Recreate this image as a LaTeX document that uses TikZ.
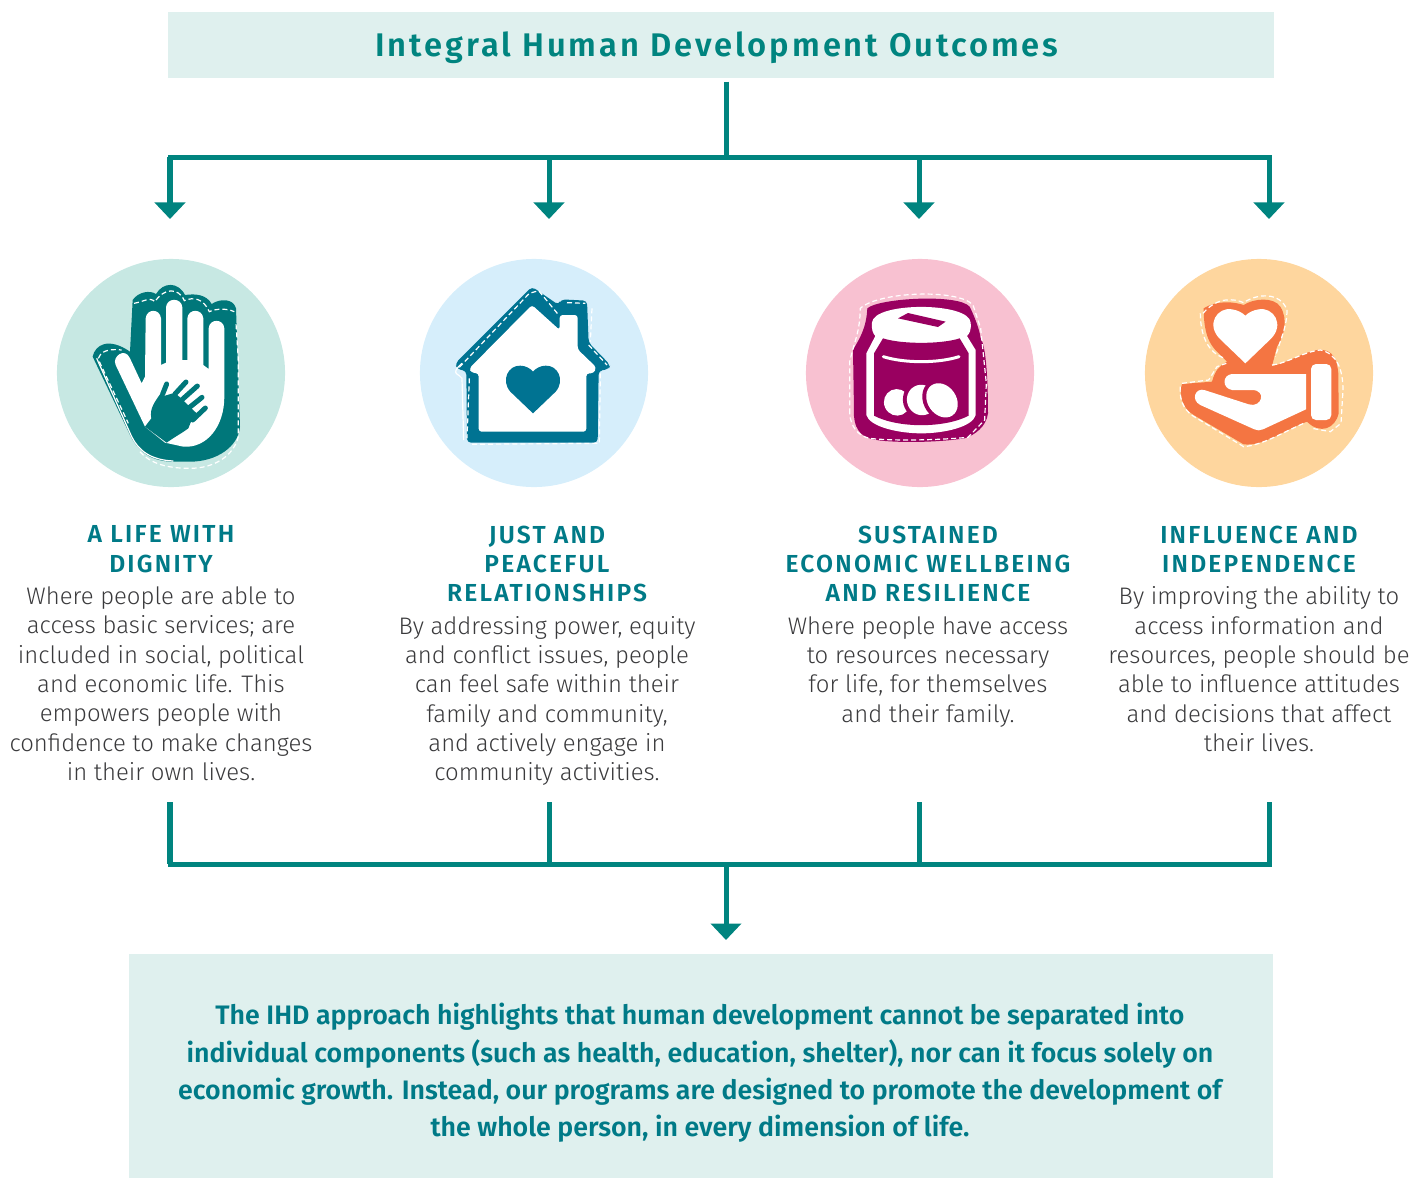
\documentclass[tikz,border=0pt]{standalone}
\usepackage{fontspec}
\setmainfont{Fira Sans Light}[BoldFont={Fira Sans SemiBold}]
\newfontfamily\headfont{Fira Sans SemiBold}[LetterSpace=9]
\newfontfamily\titlefont{Fira Sans SemiBold}[LetterSpace=9]
\newfontfamily\notefont{Fira Sans SemiBold}
\usetikzlibrary{arrows.meta}
\definecolor{flowteal}{HTML}{00847F}
\definecolor{boxmint}{HTML}{DFF0EE}
\definecolor{headteal}{HTML}{007A87}
\definecolor{bodygrey}{HTML}{3A3A3C}
\definecolor{handteal}{HTML}{00777A}
\definecolor{handdisc}{HTML}{C7E8E3}
\definecolor{houseblue}{HTML}{007392}
\definecolor{housedisc}{HTML}{D6EEFB}
\definecolor{jarplum}{HTML}{990060}
\definecolor{jardisc}{HTML}{F8C1D1}
\definecolor{giveorange}{HTML}{F47542}
\definecolor{givedisc}{HTML}{FED69E}
\tikzset{
  flow/.style={line width=.05cm,flowteal},
  flowtip/.style={flow,-{Triangle[width=.3cm,length=.165cm]}},
  panel/.style={fill=boxmint,inner sep=0pt},
  disc/.style={circle,inner sep=0pt,minimum size=2.28cm},
  coltext/.style={anchor=north,align=center,inner sep=0pt,text=bodygrey,
    font=\fontsize{6.8}{8.34}\selectfont},
  stitch/.style={white,line width=.012cm,dash pattern=on .05cm off .03cm},
  icon/.style={x=.01cm/3,y=-.01cm/3},
}
\newcommand{\headline}[1]{{\fontsize{7}{8.34}\headfont\color{headteal}#1}}
\begin{document}
\begin{tikzpicture}[x=.01cm,y=-.01cm]
  \useasboundingbox (0,0) rectangle (1423,1178);
  % boxes
  \node[panel,minimum width=11.06cm,minimum height=.66cm] (titlebox) at (721,45) {};
  \node[panel,minimum width=11.44cm,minimum height=2.24cm] (notebox) at (701,1066) {};
  \node[text=flowteal,inner sep=0pt,font=\fontsize{9.3}{11}\titlefont] (titletext) at (717,48)
    {Integral Human Development Outcomes};
  \node[align=center,inner sep=0pt,text=headteal,font=\fontsize{7.6}{10.64}\notefont] (notetext) at (700,1073)
    {The IHD approach highlights that human development cannot be separated into\\
     individual components (such as health, education, shelter), nor can it focus solely on\\
     economic growth. Instead, our programs are designed to promote the development of\\
     the whole person, in every dimension of life.};
  % bus bars
  \coordinate (topjoin) at (726,157);
  \coordinate (botjoin) at (726,864);
  \coordinate (topleft) at (168,157);
  \coordinate (topright) at (1272,157);
  \coordinate (botleft) at (168,864);
  \coordinate (botright) at (1272,864);
  \coordinate (noteend) at (726,940);
  \draw[flow,shorten <=.03cm] (titlebox.south -| topjoin) -- (topjoin);
  \draw[flow] (topleft) -- (topright);
  \draw[flow] (botleft) -- (botright);
  \draw[flowtip] (botjoin) -- (noteend);
  \foreach \x/\n in {170/a,549/b,919/c,1269/d}{
    \coordinate (top\n) at (\x,157);
    \coordinate (tip\n) at (\x,219);
    \coordinate (foot\n) at (\x,802);
    \coordinate (bot\n) at (\x,864);
    \draw[flowtip] (top\n) -- (tip\n);
    \draw[flow] (foot\n) -- (bot\n);
  }
  % discs
  \node[disc,fill=handdisc] (discone) at (171,373) {};
  \node[disc,fill=housedisc] (disctwo) at (534,373) {};
  \node[disc,fill=jardisc] (discthree) at (920,373) {};
  \node[disc,fill=givedisc] (discfour) at (1259,373) {};
  % open hand
  \begin{scope}[shift={(50,250)},icon]
    \fill[handteal] (128,320) .. controls (135,285) and (175,260) .. (240,305)
      -- (248,150) .. controls (265,125) and (300,120) .. (318,132)
      .. controls (340,95) and (385,95) .. (405,135)
      .. controls (440,130) and (470,135) .. (485,162)
      .. controls (510,145) and (550,145) .. (558,175)
      -- (570,530) .. controls (565,590) and (500,635) .. (420,635)
      -- (370,635) .. controls (300,635) and (265,600) .. (245,565) -- cycle;
    \fill[white] (197,345) .. controls (185,320) and (225,290) .. (240,325)
      -- (275,400) -- (285,380) -- (287,205)
      .. controls (290,175) and (330,175) .. (333,205) -- (333,345) -- (348,338) -- (348,172)
      .. controls (350,142) and (395,142) .. (397,172) -- (397,330) -- (412,330) -- (412,205)
      .. controls (415,175) and (457,175) .. (460,205) -- (460,345) -- (476,357) -- (476,235)
      .. controls (478,205) and (521,205) .. (523,235) -- (523,440)
      .. controls (523,530) and (470,595) .. (400,590) -- (345,578) -- (285,530) -- cycle;
    \fill[handteal] (285,530) -- (304,505) .. controls (298,475) and (315,455) .. (332,430)
      -- (345,437) -- (375,428) -- (440,490) -- (425,510) -- (415,535)
      .. controls (395,550) and (375,560) .. (350,578) -- cycle;
    \draw[handteal,line width=.05cm,line cap=round]
      (350,402) -- (338,432) (408,396) -- (375,432) (442,408) -- (395,450)
      (456,442) -- (415,475) (466,474) -- (428,510);
    \draw[stitch] (145,325) .. controls (150,305) and (175,295) .. (215,300);
    \draw[stitch] (148,335) -- (235,520);
    \draw[stitch] (252,160) .. controls (280,155) and (300,140) .. (315,155)
      .. controls (340,115) and (385,110) .. (403,152)
      .. controls (430,140) and (460,145) .. (478,185)
      .. controls (500,175) and (530,175) .. (553,185);
    \draw[white,line width=.012cm] (140,325) -- (245,560) .. controls (265,600) and (300,630) .. (370,633);
    \draw[stitch] (270,605) .. controls (300,640) and (350,655) .. (420,655)
      .. controls (490,655) and (550,620) .. (565,560) -- (565,330) -- (558,220);
  \end{scope}
  % house
  \begin{scope}[shift={(412,250)},icon]
    \fill[houseblue,rounded corners=.04cm] (130,340) -- (360,110) -- (440,165) -- (447,148) -- (525,152)
      -- (530,278) -- (595,345) -- (590,358) -- (560,362) -- (557,578) -- (165,578)
      -- (163,362) -- (135,358) -- cycle;
    \fill[white,rounded corners=.03cm] (172,355) -- (360,165) -- (443,240) -- (443,195) -- (497,195)
      -- (497,298) -- (553,352) -- (545,370) -- (523,370) -- (523,545) -- (200,545)
      -- (200,370) -- (178,368) -- cycle;
    \fill[houseblue] (363,490) -- (295,425) .. controls (265,390) and (290,345) .. (325,347)
      .. controls (340,347) and (355,355) .. (363,365)
      .. controls (371,355) and (386,347) .. (401,347)
      .. controls (436,345) and (461,390) .. (431,425) -- cycle;
    \draw[stitch] (142,352) -- (352,130) -- (380,122) -- (440,195);
    \draw[stitch] (172,385) -- (165,565);
    \draw[stitch] (465,158) -- (520,160);
    \draw[stitch] (530,285) -- (585,345);
    \draw[stitch] (540,175) -- (535,275);
    \draw[stitch] (565,370) -- (562,580) -- (175,583);
    \draw[white,line width=.012cm] (150,340) .. controls (110,375) and (145,372) .. (150,385)
      -- (155,570);
  \end{scope}
  % savings jar
  \begin{scope}[shift={(798,250)},icon]
    \fill[jarplum] (208,175) .. controls (240,145) and (480,130) .. (515,170)
      .. controls (530,200) and (545,240) .. (548,265) .. controls (565,290) and (570,400) .. (570,490)
      .. controls (565,530) and (530,555) .. (500,565) .. controls (400,580) and (270,578) .. (225,568)
      .. controls (185,560) and (165,530) .. (168,480) -- (165,300)
      .. controls (185,265) and (205,235) .. (208,175) -- cycle;
    % jar in white
    \fill[white] (222,218) .. controls (225,155) and (515,155) .. (518,218)
      .. controls (520,240) and (515,250) .. (507,258) -- (533,300) -- (533,495)
      .. controls (525,530) and (440,550) .. (370,550) .. controls (300,550) and (215,530) .. (205,495)
      -- (205,310) -- (232,258) .. controls (225,250) and (220,240) .. (222,218) -- cycle;
    \fill[jarplum] (255,265) .. controls (310,283) and (430,283) .. (485,265) -- (512,310) -- (512,497)
      .. controls (440,535) and (300,535) .. (228,497) -- (228,310) -- cycle;
    \fill[jarplum] (300,205) -- (330,189) -- (443,215) -- (420,231) -- cycle;
    \draw[white,line width=.03cm,line cap=round] (256,320) .. controls (320,340) and (420,340) .. (483,320);
    \fill[white,rotate around={25:(297,457)}] (297,457) ellipse [x radius=39,y radius=40];
    \fill[jarplum,rotate around={25:(371,450)}] (371,450) ellipse [x radius=56,y radius=58];
    \fill[white,rotate around={25:(371,450)}] (371,450) ellipse [x radius=44,y radius=46];
    \fill[jarplum,rotate around={35:(432,451)}] (432,451) ellipse [x radius=55,y radius=67];
    \fill[white,rotate around={35:(432,451)}] (432,451) ellipse [x radius=43,y radius=55];
    \draw[stitch] (155,490) -- (155,335) .. controls (170,270) and (185,250) .. (187,175)
      .. controls (240,125) and (480,115) .. (525,165) -- (548,235) -- (565,400) -- (560,510)
      -- (510,562) .. controls (400,572) and (270,572) .. (215,565)
      .. controls (180,558) and (158,530) .. (155,490) -- cycle;
  \end{scope}
  % heart in hand
  \begin{scope}[shift={(1137,250)},icon]
    \fill[giveorange] (200,175) .. controls (240,150) and (290,155) .. (320,165)
      .. controls (350,145) and (410,140) .. (430,170)
      .. controls (455,210) and (440,260) .. (420,290) -- (405,348)
      .. controls (450,340) and (490,310) .. (540,300)
      .. controls (590,295) and (600,330) .. (604,370) -- (605,490)
      .. controls (595,535) and (550,555) .. (510,515)
      .. controls (440,540) and (380,590) .. (320,583)
      -- (170,495) .. controls (135,475) and (125,430) .. (135,402)
      -- (225,395) .. controls (235,360) and (245,350) .. (270,335)
      .. controls (240,300) and (200,290) .. (200,175) -- cycle;
    \fill[white] (325,340) -- (250,268) .. controls (205,225) and (240,170) .. (285,178)
      .. controls (300,180) and (315,187) .. (325,197)
      .. controls (335,187) and (350,180) .. (365,178)
      .. controls (410,170) and (445,225) .. (400,268) -- cycle;
    \fill[white] (285,372) -- (507,372) -- (507,478) -- (378,538)
      .. controls (368,542) and (362,542) .. (352,538) -- (190,465)
      .. controls (160,450) and (175,410) .. (205,421) -- (335,463)
      .. controls (375,475) and (390,420) .. (345,420) -- (285,420)
      .. controls (255,415) and (255,375) .. (285,372) -- cycle;
    \fill[white,rounded corners=.05cm] (522,342) rectangle (583,510);
    \draw[stitch] (198,190) .. controls (240,140) and (290,145) .. (320,158)
      .. controls (360,130) and (430,125) .. (450,180)
      .. controls (450,230) and (430,270) .. (415,320);
    \draw[stitch] (190,190) .. controls (190,250) and (210,310) .. (265,325);
    \draw[stitch] (405,345) .. controls (450,340) and (500,305) .. (550,300)
      .. controls (600,310) and (618,360) .. (618,420) -- (612,520) -- (580,545) -- (525,535);
    \draw[stitch] (130,410) .. controls (125,460) and (150,490) .. (180,505) -- (320,590)
      .. controls (380,585) and (440,545) .. (505,518);
    \draw[stitch] (135,400) -- (215,390) -- (240,350) -- (268,340);
  \end{scope}
  % column texts
  \node[coltext] (colone) at (161,525) {\headline{A LIFE WITH}\\ \headline{DIGNITY}\\[.85pt]
    Where people are able to\\ access basic services; are\\ included in social, political\\
    and economic life. This\\ empowers people with\\ confidence to make changes\\ in their own lives.};
  \node[coltext] (coltwo) at (547,525) {\headline{JUST AND}\\ \headline{PEACEFUL}\\ \headline{RELATIONSHIPS}\\[.85pt]
    By addressing power, equity\\ and conflict issues, people\\ can feel safe within their\\
    family and community,\\ and actively engage in\\ community activities.};
  \node[coltext] (colthree) at (928,525) {\headline{SUSTAINED}\\ \headline{ECONOMIC WELLBEING}\\ \headline{AND RESILIENCE}\\[.85pt]
    Where people have access\\ to resources necessary\\ for life, for themselves\\ and their family.};
  \node[coltext] (colfour) at (1259,525) {\headline{INFLUENCE AND}\\ \headline{INDEPENDENCE}\\[.85pt]
    By improving the ability to\\ access information and\\ resources, people should be\\
    able to influence attitudes\\ and decisions that affect\\ their lives.};
\end{tikzpicture}
\end{document}
